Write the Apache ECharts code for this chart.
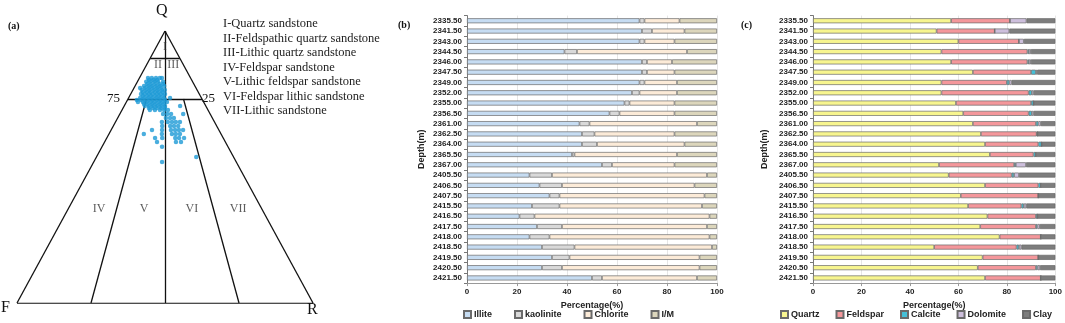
<!DOCTYPE html>
<html>
<head>
<meta charset="utf-8">
<script src="https://cdn.jsdelivr.net/npm/echarts@6/dist/echarts.min.js"></script>
<style>
  html, body { margin: 0; padding: 0; background: #fff; }
  #chart { width: 1065px; height: 323px; }
</style>
</head>
<body>
<div id="chart"></div>
<script>
// ---- (a) QFR ternary: samples as [Q%, R%], F = 100 - Q - R
const qfrSamples = [
  [82.7, 2.9], [82.7, 4.2], [82.7, 5.6], [82.7, 6.9], [82.7, 7.6],
  [82.0, 3.6], [82.0, 5.0], [82.0, 6.3],
  [81.3, 3.0], [81.3, 4.3], [81.3, 5.7], [81.3, 7.0], [81.3, 8.7],
  [80.5, 3.7], [80.5, 5.0], [80.5, 6.4], [80.5, 7.8], [80.5, 9.1],
  [79.8, 3.0], [79.8, 4.4], [79.8, 5.7], [79.8, 7.1], [79.8, 8.4], [79.8, 9.8],
  [79.0, 2.1], [79.0, 3.7], [79.0, 5.1], [79.0, 6.4], [79.0, 7.8], [79.0, 9.1],
  [78.3, 3.0], [78.3, 4.4], [78.3, 5.7], [78.3, 7.1], [78.3, 8.4], [78.3, 9.8], [78.3, 10.8],
  [77.6, 3.7], [77.6, 5.1], [77.6, 6.4], [77.6, 7.8], [77.6, 9.1], [77.6, 10.4],
  [76.8, 3.5], [76.8, 4.8], [76.8, 6.2], [76.8, 7.5], [76.8, 8.9], [76.8, 10.2], [76.8, 11.6],
  [76.1, 4.5], [76.1, 5.9], [76.1, 7.2], [76.1, 8.6], [76.1, 9.9], [76.1, 11.3],
  [75.4, 3.9], [75.4, 5.2], [75.4, 6.6], [75.4, 7.9], [75.4, 9.3], [75.4, 10.6], [75.4, 12.0], [75.4, 14.0],
  [74.6, 3.2], [74.6, 4.6], [74.6, 5.9], [74.6, 7.3], [74.6, 8.6], [74.6, 10.0], [74.6, 11.3], [74.6, 12.7],
  [73.9, 3.9], [73.9, 5.6], [73.9, 6.9], [73.9, 8.3], [73.9, 9.6], [73.9, 11.0], [73.9, 12.3], [73.9, 13.7],
  [73.2, 6.3], [73.2, 7.6], [73.2, 9.0], [73.2, 10.3], [73.2, 11.7], [73.2, 13.0],
  [72.4, 7.0], [72.4, 8.4], [72.4, 9.7], [72.4, 11.1], [72.4, 12.4], [72.4, 13.8], [72.4, 18.9],
  [71.7, 8.7], [71.7, 10.1], [71.7, 11.4], [71.7, 12.8], [71.7, 14.1],
  [71.0, 9.4], [71.0, 11.1], [71.0, 12.8], [71.0, 14.2], [71.0, 15.5],
  [69.5, 14.6], [69.5, 16.0], [69.5, 17.3], [69.5, 21.4],
  [68.0, 16.3], [68.0, 17.7], [68.0, 19.0],
  [66.5, 15.7], [66.5, 17.7], [66.5, 19.1], [66.5, 20.4], [66.5, 21.8],
  [65.1, 16.5], [65.1, 19.2], [65.1, 20.5], [65.1, 21.9],
  [63.6, 13.8], [63.6, 17.2], [63.6, 20.2], [63.6, 21.6], [63.6, 22.9], [63.6, 24.3],
  [62.1, 11.8], [62.1, 17.9], [62.1, 21.3], [62.1, 22.6], [62.1, 24.0],
  [60.7, 16.3], [60.7, 18.7], [60.7, 23.1], [60.7, 24.4], [60.7, 26.1],
  [59.2, 17.7], [59.2, 24.1], [59.2, 25.8],
  [57.4, 20.3], [53.7, 33.7], [51.8, 23.1]
];
// classification boundaries, [Q, R] end points
const boundaries = [
  [[100, 0], [0, 0]], [[0, 0], [0, 100]], [[0, 100], [100, 0]],
  [[90, 0], [90, 10]],
  [[75, 0], [75, 25]],
  [[100, 0], [0, 50]],
  [[75, 6.25], [0, 25]],
  [[75, 18.75], [0, 75]]
];
// region numerals placed at [Q, R]
const regionNames = ['I', 'II', 'III', 'IV', 'V', 'VI', 'VII'];
const regionPos = [[94, 3], [87.5, 3.9], [87.5, 9], [34.6, 10.4], [34.6, 25.6], [34.6, 41.8], [34.6, 57.4]];
const classNames = [
  'I-Quartz sandstone',
  'II-Feldspathic quartz sandstone',
  'III-Lithic quartz sandstone',
  'IV-Feldspar sandstone',
  'V-Lithic feldspar sandstone',
  'VI-Feldspar lithic sandstone',
  'VII-Lithic sandstone'
];

// ---- depth categories shared by (b) and (c)
const depths = ['2335.50', '2341.50', '2343.00', '2344.50', '2346.00', '2347.50', '2349.00',
  '2352.00', '2355.00', '2356.50', '2361.00', '2362.50', '2364.00', '2365.50', '2367.00',
  '2405.50', '2406.50', '2407.50', '2415.50', '2416.50', '2417.50', '2418.00', '2418.50',
  '2419.50', '2420.50', '2421.50'];

// ---- (b) clay minerals (%)
const illite    = [69, 70, 69, 39, 70, 70, 69, 66, 63, 57, 45, 46, 46, 42, 54, 25, 29, 33, 26, 21, 28, 25, 30, 34, 30, 50];
const kaolinite = [2, 4, 2, 5, 2, 2, 2, 3, 2, 4, 4, 5, 6, 1, 4, 9, 9, 4, 11, 6, 10, 8, 13, 7, 8, 4];
const chlorite  = [14, 13, 12, 44, 10, 11, 13, 15, 18, 22, 43, 32, 35, 41, 25, 62, 53, 58, 57, 70, 58, 64, 55, 52, 55, 38];
const imLayer   = [15, 13, 17, 12, 18, 17, 16, 16, 17, 17, 8, 17, 13, 16, 17, 4, 9, 5, 6, 3, 4, 3, 2, 7, 7, 8];

// ---- (c) mineral composition (%)
const quartz   = [57, 51, 60, 53, 57, 66, 53, 53, 59, 62, 66, 69.3, 71, 73, 52, 56, 71, 61, 64, 72, 69, 77, 50, 70, 68, 71];
const feldspar = [24.3, 24, 25, 35.5, 31.5, 24, 27, 36, 31, 27, 26, 23, 22, 18, 31, 26, 22, 32, 22, 20, 23, 17, 34, 23, 24, 23];
const calcite  = [0, 0, 0, 0.6, 0.6, 2, 1, 1.3, 1, 1.3, 1, 0.3, 1.3, 1, 0.7, 1, 1, 0, 1, 0.6, 0.6, 0, 1, 0, 0.7, 0];
const dolomite = [6.8, 6, 2, 0.8, 0.8, 0.5, 1, 0.8, 0, 0.8, 1, 0, 0, 0, 4.2, 2, 0, 0, 1, 0, 1, 0, 1, 0, 1, 0];
const clay     = [11.9, 19, 13, 10.1, 10.1, 7.5, 18, 8.9, 9, 8.9, 6, 7.4, 5.7, 8, 12.1, 15, 6, 7, 12, 7.4, 6.4, 6, 14, 7, 6.3, 6];

// Q at top, F bottom-left, R bottom-right
const toXY = (q, r) => [r + q / 2, q];

const chart = echarts.init(document.getElementById('chart'));

const sans = 'Liberation Sans';
const serif = 'Liberation Serif';
const tickFont = { fontFamily: sans, fontWeight: 'bold', fontSize: 8, color: '#222' };

const bar = (name, data, color, idx) => ({
  name, type: 'bar', stack: 'p' + idx, data,
  xAxisIndex: idx, yAxisIndex: idx,
  barWidth: 5,
  itemStyle: { color, borderColor: '#6a6a6a', borderWidth: 0.7 }
});

const valueAxis = (idx) => ({
  gridIndex: idx, type: 'value', min: 0, max: 100, interval: 20,
  axisLine: { show: true, lineStyle: { color: '#999' } },
  axisTick: { show: true, length: 3, lineStyle: { color: '#999' } },
  splitLine: { show: true, lineStyle: { color: '#e6e6e6' } },
  axisLabel: Object.assign({ margin: 5 }, tickFont),
  name: 'Percentage(%)', nameLocation: 'middle', nameGap: 17,
  nameTextStyle: { fontFamily: sans, fontWeight: 'bold', fontSize: 9, color: '#222' }
});

const depthAxis = (idx, gap) => ({
  gridIndex: idx, type: 'category', data: depths, inverse: true,
  axisLine: { show: true, lineStyle: { color: '#777' } },
  axisTick: { show: true, length: 3, lineStyle: { color: '#777' } },
  axisLabel: Object.assign({ margin: 5, interval: 0 }, tickFont),
  name: 'Depth(m)', nameLocation: 'middle', nameRotate: 90, nameGap: gap,
  nameTextStyle: { fontFamily: sans, fontWeight: 'bold', fontSize: 9, color: '#222' }
});

const legendStyle = {
  orient: 'horizontal', top: 310, padding: 0, itemWidth: 7, itemHeight: 7, icon: 'rect',
  textStyle: { fontFamily: sans, fontWeight: 'bold', fontSize: 9, color: '#222', padding: [0, 0, 0, -2] }
};

const graphicTexts = [
  { type: 'text', left: 8, top: 21, style: { text: '(a)', font: 'bold 10px ' + serif, fill: '#111' } },
  { type: 'text', left: 156, top: 3, style: { text: 'Q', font: '16px ' + serif, fill: '#111' } },
  { type: 'text', left: 1, top: 300, style: { text: 'F', font: '16px ' + serif, fill: '#111' } },
  { type: 'text', left: 307, top: 302, style: { text: 'R', font: '16px ' + serif, fill: '#111' } },
  { type: 'text', left: 107, top: 92, style: { text: '75', font: '13px ' + serif, fill: '#111' } },
  { type: 'text', left: 202, top: 92, style: { text: '25', font: '13px ' + serif, fill: '#111' } },
  { type: 'text', left: 398, top: 20, style: { text: '(b)', font: 'bold 10px ' + serif, fill: '#111' } },
  { type: 'text', left: 741, top: 20, style: { text: '(c)', font: 'bold 10px ' + serif, fill: '#111' } }
].concat(classNames.map((t, i) => ({
  type: 'text', left: 223, top: 17.5 + i * 14.5,
  style: { text: t, font: '12.5px ' + serif, fill: '#222' }
})));

chart.setOption({
  animation: false,
  backgroundColor: '#fff',
  grid: [
    { left: 17, top: 31, width: 296, height: 272 },
    { left: 467, top: 15.6, width: 250, height: 267.5 },
    { left: 813, top: 15.6, width: 244, height: 267.5 }
  ],
  xAxis: [
    { gridIndex: 0, type: 'value', min: 0, max: 100, show: false },
    valueAxis(1),
    valueAxis(2)
  ],
  yAxis: [
    { gridIndex: 0, type: 'value', min: 0, max: 100, show: false },
    depthAxis(1, 41),
    depthAxis(2, 44)
  ],
  legend: [
    Object.assign({ left: 463, itemGap: 22, data: ['Illite', 'kaolinite', 'Chlorite', 'I/M'] }, legendStyle),
    Object.assign({ left: 780, itemGap: 16, data: ['Quartz', 'Feldspar', 'Calcite', 'Dolomite', 'Clay'] }, legendStyle)
  ],
  graphic: graphicTexts,
  series: [
    {
      type: 'lines', coordinateSystem: 'cartesian2d', xAxisIndex: 0, yAxisIndex: 0,
      silent: true,
      lineStyle: { color: '#111', width: 1.3, opacity: 1 },
      data: boundaries.map(s => ({ coords: s.map(p => toXY(p[0], p[1])) }))
    },
    {
      type: 'scatter', xAxisIndex: 0, yAxisIndex: 0,
      symbol: 'circle', symbolSize: 4.5,
      itemStyle: { color: '#1d9ad6' },
      data: qfrSamples.map(p => toXY(p[0], p[1]))
    },
    {
      type: 'scatter', xAxisIndex: 0, yAxisIndex: 0, symbolSize: 0, silent: true,
      label: { show: true, position: 'inside', formatter: p => p.name, fontFamily: serif, fontSize: 12, color: '#333' },
      data: regionNames.map((n, i) => ({ name: n, value: toXY(regionPos[i][0], regionPos[i][1]) }))
    },
    bar('Illite', illite, '#c6dcf2', 1),
    bar('kaolinite', kaolinite, '#d9d9d9', 1),
    bar('Chlorite', chlorite, '#fcebd8', 1),
    bar('I/M', imLayer, '#dcd6bc', 1),
    bar('Quartz', quartz, '#f7f58f', 2),
    bar('Feldspar', feldspar, '#f4979b', 2),
    bar('Calcite', calcite, '#44c0d8', 2),
    bar('Dolomite', dolomite, '#cdbfdc', 2),
    bar('Clay', clay, '#7d7d7d', 2)
  ]
});
</script>
</body>
</html>
